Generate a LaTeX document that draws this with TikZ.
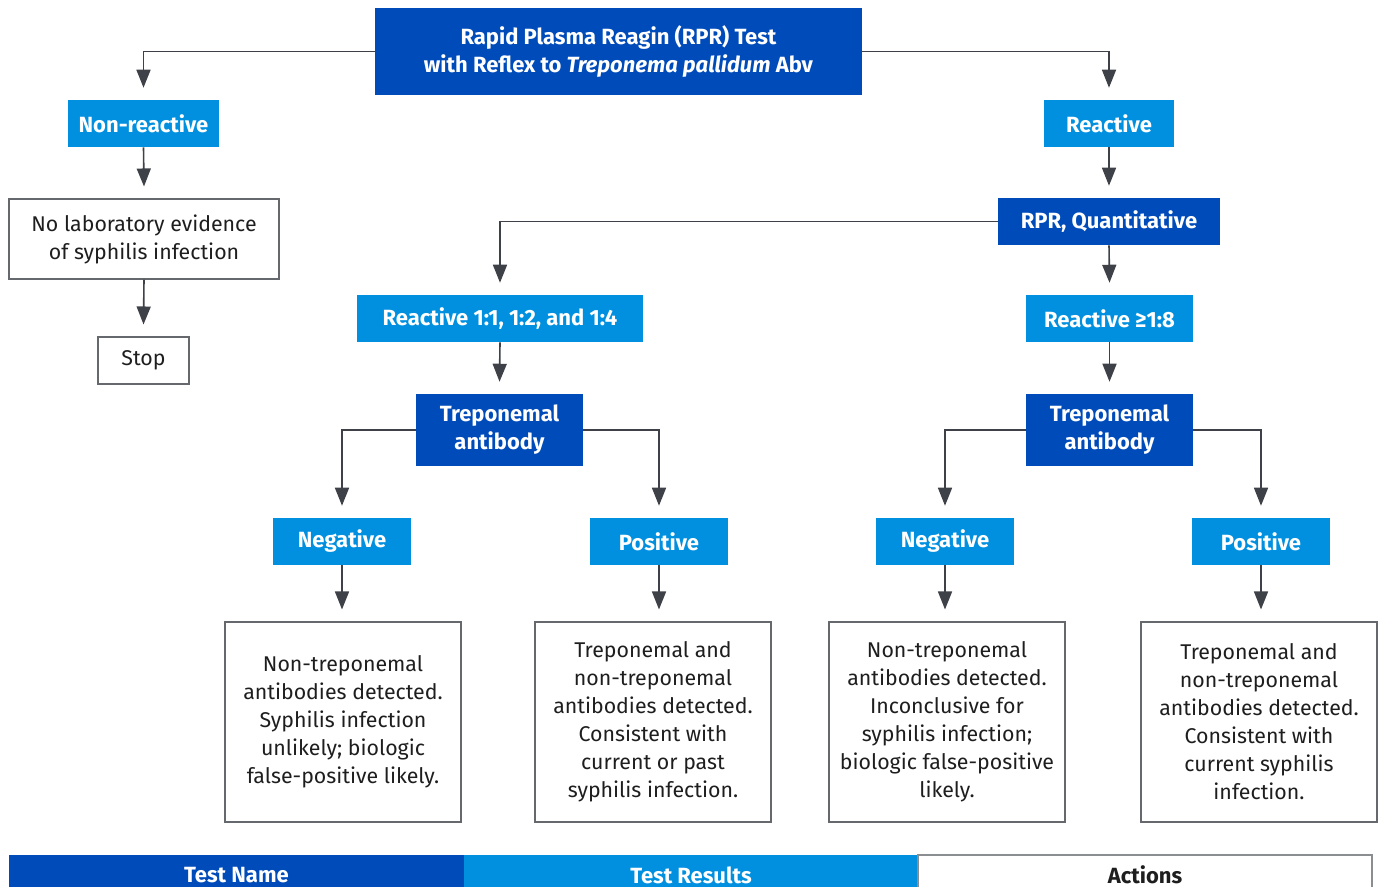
\documentclass[tikz,border=0pt]{standalone}
\usepackage{fontspec}
\setmainfont{Fira Sans}
\usetikzlibrary{arrows.meta}

\definecolor{dkblue}{RGB}{0,75,186}
\definecolor{ltblue}{RGB}{0,144,223}
\definecolor{lnclr}{RGB}{62,66,72}
\definecolor{txclr}{RGB}{30,30,30}

\tikzset{
  box/.style={inner sep=0pt, align=center, font=\fontsize{16pt}{21pt}\selectfont},
  dkbox/.style={box, fill=dkblue, text=white, font=\fontsize{16.5pt}{21pt}\selectfont\bfseries},
  ltbox/.style={box, fill=ltblue, text=white, font=\fontsize{16.5pt}{21pt}\selectfont\bfseries},
  txtbox/.style={box, draw=lnclr!80, line width=0.8pt, fill=white, text=txclr},
  arr/.style={draw=lnclr, line width=1.2pt, -{Triangle[length=13.5pt,width=10.5pt]}},
}

\begin{document}
\begin{tikzpicture}[x=0.75pt,y=0.75pt,yscale=-1]
\useasboundingbox (0,0) rectangle (1380,886);

% Top test
\node[dkbox, minimum width=365.25pt, minimum height=65.25pt] (top) at (618.5,51.5)
  {Rapid Plasma Reagin (RPR) Test\\with Reflex to \textit{Treponema pallidum} Abv};

% Left branch
\node[ltbox, minimum width=113.25pt, minimum height=35.25pt] (nonreac) at (143.5,123.5) {Non-reactive};
\node[txtbox, minimum width=202.5pt, minimum height=60pt] (nolab) at (144,239)
  {No laboratory evidence\\of syphilis infection};
\node[txtbox, minimum width=68.25pt, minimum height=35.25pt] (stop) at (143.5,360.5) {Stop};

% Right branch
\node[ltbox, minimum width=97.5pt, minimum height=35.25pt] (reac) at (1109,123.5) {Reactive};
\node[dkbox, minimum width=166.5pt, minimum height=35.25pt] (rprq) at (1109,221.5) {RPR, Quantitative};
\node[ltbox, minimum width=214.5pt, minimum height=35.25pt] (lowtit) at (500,318.5) {Reactive 1:1, 1:2, and 1:4};
\node[ltbox, minimum width=125.25pt, minimum height=35.25pt] (hightit) at (1109.5,318.5) {Reactive ≥1:8};

\node[dkbox, minimum width=125.25pt, minimum height=54pt] (trepL) at (499.5,430) {Treponemal\\antibody};
\node[dkbox, minimum width=125.25pt, minimum height=54pt] (trepR) at (1109.5,430) {Treponemal\\antibody};

\node[ltbox, minimum width=103.5pt, minimum height=35.25pt] (negL) at (342,541.5) {Negative};
\node[ltbox, minimum width=103.5pt, minimum height=35.25pt] (posL) at (659,541.5) {Positive};
\node[ltbox, minimum width=103.5pt, minimum height=35.25pt] (negR) at (945,541.5) {Negative};
\node[ltbox, minimum width=103.5pt, minimum height=35.25pt] (posR) at (1261,541.5) {Positive};

% Actions
\node[txtbox, minimum width=177pt, minimum height=150pt] (resA) at (343,722)
  {Non-treponemal\\antibodies detected.\\Syphilis infection\\unlikely; biologic\\false-positive likely.};
\node[txtbox, minimum width=177pt, minimum height=150pt] (resB) at (653,722)
  {Treponemal and\\non-treponemal\\antibodies detected.\\Consistent with\\current or past\\syphilis infection.};
\node[txtbox, minimum width=177pt, minimum height=150pt] (resC) at (947,722)
  {Non-treponemal\\antibodies detected.\\Inconclusive for\\syphilis infection;\\biologic false-positive\\likely.};
\node[txtbox, minimum width=177pt, minimum height=150pt] (resD) at (1259,722)
  {Treponemal and\\non-treponemal\\antibodies detected.\\Consistent with\\current syphilis\\infection.};

% Connectors
\draw[arr] (top.west) -| ([yshift=-9pt]nonreac.north);
\draw[arr] (top.east) -| ([yshift=-9pt]reac.north);
\draw[arr] (nonreac.south) -- ([yshift=-9pt]nolab.north);
\draw[arr] (nolab.south) -- ([yshift=-9pt]stop.north);
\draw[arr] (reac.south) -- ([yshift=-9pt]rprq.north);
\draw[arr] (rprq.west) -| ([yshift=-9pt]lowtit.north);
\draw[arr] (rprq.south) -- ([yshift=-9pt]hightit.north);
\draw[arr] (lowtit.south) -- ([yshift=-9pt]trepL.north);
\draw[arr] (hightit.south) -- ([yshift=-9pt]trepR.north);
\draw[arr] (trepL.west) -| ([yshift=-9pt]negL.north);
\draw[arr] (trepL.east) -| ([yshift=-9pt]posL.north);
\draw[arr] (trepR.west) -| ([yshift=-9pt]negR.north);
\draw[arr] (trepR.east) -| ([yshift=-9pt]posR.north);
\draw[arr] (negL.south) -- ([yshift=-9pt]negL.south |- resA.north);
\draw[arr] (posL.south) -- ([yshift=-9pt]posL.south |- resB.north);
\draw[arr] (negR.south) -- ([yshift=-9pt]negR.south |- resC.north);
\draw[arr] (posR.south) -- ([yshift=-9pt]posR.south |- resD.north);

% Legend
\node[dkbox, minimum width=341.25pt, minimum height=30pt] (legname) at (236.5,875) {Test Name};
\node[ltbox, minimum width=340.5pt, minimum height=30pt] (legres) at (691,875) {Test Results};
\node[box, draw=lnclr!60, line width=1pt, text=txclr, font=\fontsize{16.5pt}{21pt}\selectfont\bfseries,
  minimum width=340.5pt, minimum height=30pt] (legact) at (1145,875) {Actions};

\end{tikzpicture}
\end{document}
